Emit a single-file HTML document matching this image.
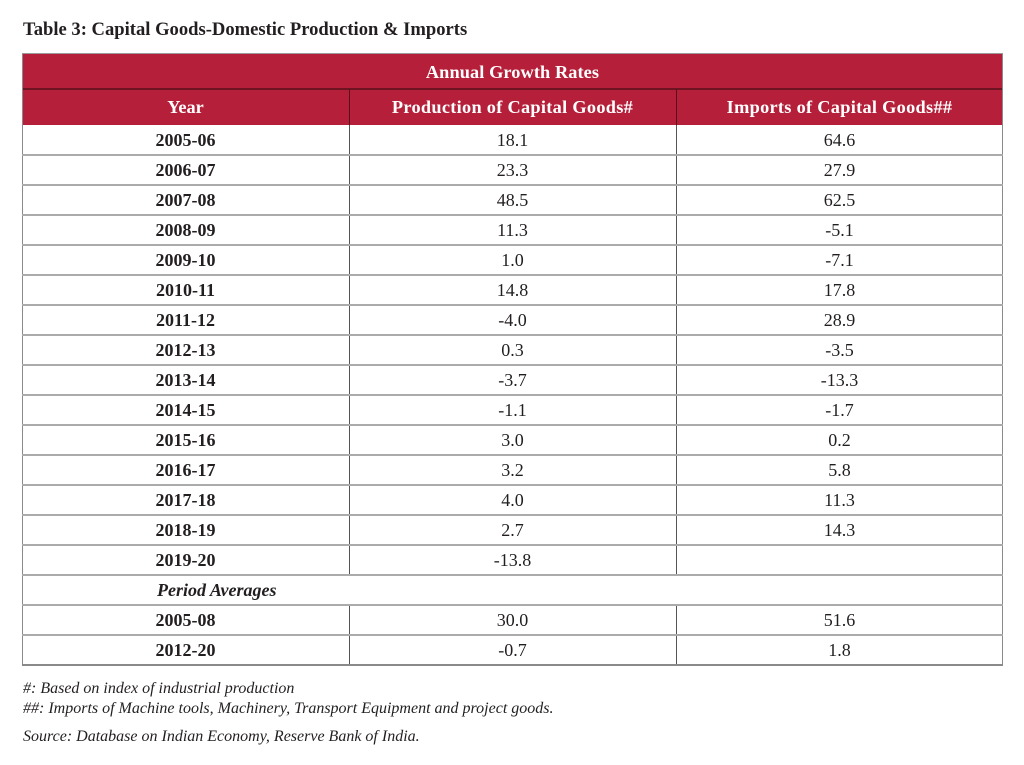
<!DOCTYPE html>
<html>
<head>
<meta charset="utf-8">
<style>
  html,body{margin:0;padding:0;background:#fff;}
  body{width:1024px;height:765px;position:relative;overflow:hidden;font-family:"Liberation Serif",serif;color:#231f20;}
  .abs{position:absolute;}
  .title{left:23px;top:20px;height:20px;line-height:20px;font-size:18.6px;font-weight:bold;white-space:nowrap;}
  .hdr{background:#b51f39;}
  .ht{color:#fff;font-weight:bold;font-size:18.3px;text-align:center;white-space:nowrap;}
  .cell{font-size:18px;text-align:center;height:30px;line-height:31px;white-space:nowrap;}
  .yr{font-weight:bold;left:22px;width:327px;}
  .c2{left:349px;width:327px;}
  .c3{left:676px;width:327px;}
  .hl{left:22px;width:981px;height:2px;background:#ababab;}
  .fn{left:23px;font-size:16px;font-style:italic;white-space:nowrap;height:20px;line-height:20px;}
</style>
</head>
<body>
<div class="abs title">Table 3: Capital Goods-Domestic Production &amp; Imports</div>

<!-- header block -->
<div class="abs hdr" style="left:22px;top:54px;width:981px;height:71px;"></div>
<div class="abs" style="left:22px;top:88px;width:981px;height:2px;background:#6e1322;"></div>
<div class="abs" style="left:349px;top:89px;width:1px;height:36px;background:#5a0f1c;"></div>
<div class="abs" style="left:676px;top:89px;width:1px;height:36px;background:#5a0f1c;"></div>
<div class="abs ht" style="left:22px;top:54px;width:981px;height:35px;line-height:36px;letter-spacing:0.1px;">Annual Growth Rates</div>
<div class="abs ht" style="left:22px;top:89px;width:327px;height:36px;line-height:37px;">Year</div>
<div class="abs ht" style="left:349px;top:89px;width:327px;height:36px;line-height:37px;letter-spacing:0.3px;">Production of Capital Goods#</div>
<div class="abs ht" style="left:676px;top:89px;width:327px;height:36px;line-height:37px;letter-spacing:0.3px;">Imports of Capital Goods##</div>

<!-- outer borders -->
<div class="abs" style="left:22px;top:54px;width:1px;height:612px;background:#8a8a8a;"></div>
<div class="abs" style="left:1002px;top:54px;width:1px;height:612px;background:#8a8a8a;"></div>
<div class="abs" style="left:22px;top:53px;width:981px;height:1px;background:#9a9a9a;"></div>

<!-- column dividers in body -->
<div class="abs" style="left:349px;top:125px;width:1px;height:450px;background:#555;"></div>
<div class="abs" style="left:676px;top:125px;width:1px;height:450px;background:#555;"></div>
<div class="abs" style="left:349px;top:605px;width:1px;height:60px;background:#555;"></div>
<div class="abs" style="left:676px;top:605px;width:1px;height:60px;background:#555;"></div>

<!-- horizontal row lines -->
<div class="abs hl" style="top:154px;"></div>
<div class="abs hl" style="top:184px;"></div>
<div class="abs hl" style="top:214px;"></div>
<div class="abs hl" style="top:244px;"></div>
<div class="abs hl" style="top:274px;"></div>
<div class="abs hl" style="top:304px;"></div>
<div class="abs hl" style="top:334px;"></div>
<div class="abs hl" style="top:364px;"></div>
<div class="abs hl" style="top:394px;"></div>
<div class="abs hl" style="top:424px;"></div>
<div class="abs hl" style="top:454px;"></div>
<div class="abs hl" style="top:484px;"></div>
<div class="abs hl" style="top:514px;"></div>
<div class="abs hl" style="top:544px;"></div>
<div class="abs hl" style="top:574px;"></div>
<div class="abs hl" style="top:604px;"></div>
<div class="abs hl" style="top:634px;"></div>
<div class="abs hl" style="top:664px;background:#8a8a8a;"></div>

<!-- rows -->
<div class="abs cell yr" style="top:125px;">2005-06</div><div class="abs cell c2" style="top:125px;">18.1</div><div class="abs cell c3" style="top:125px;">64.6</div>
<div class="abs cell yr" style="top:155px;">2006-07</div><div class="abs cell c2" style="top:155px;">23.3</div><div class="abs cell c3" style="top:155px;">27.9</div>
<div class="abs cell yr" style="top:185px;">2007-08</div><div class="abs cell c2" style="top:185px;">48.5</div><div class="abs cell c3" style="top:185px;">62.5</div>
<div class="abs cell yr" style="top:215px;">2008-09</div><div class="abs cell c2" style="top:215px;">11.3</div><div class="abs cell c3" style="top:215px;">-5.1</div>
<div class="abs cell yr" style="top:245px;">2009-10</div><div class="abs cell c2" style="top:245px;">1.0</div><div class="abs cell c3" style="top:245px;">-7.1</div>
<div class="abs cell yr" style="top:275px;">2010-11</div><div class="abs cell c2" style="top:275px;">14.8</div><div class="abs cell c3" style="top:275px;">17.8</div>
<div class="abs cell yr" style="top:305px;">2011-12</div><div class="abs cell c2" style="top:305px;">-4.0</div><div class="abs cell c3" style="top:305px;">28.9</div>
<div class="abs cell yr" style="top:335px;">2012-13</div><div class="abs cell c2" style="top:335px;">0.3</div><div class="abs cell c3" style="top:335px;">-3.5</div>
<div class="abs cell yr" style="top:365px;">2013-14</div><div class="abs cell c2" style="top:365px;">-3.7</div><div class="abs cell c3" style="top:365px;">-13.3</div>
<div class="abs cell yr" style="top:395px;">2014-15</div><div class="abs cell c2" style="top:395px;">-1.1</div><div class="abs cell c3" style="top:395px;">-1.7</div>
<div class="abs cell yr" style="top:425px;">2015-16</div><div class="abs cell c2" style="top:425px;">3.0</div><div class="abs cell c3" style="top:425px;">0.2</div>
<div class="abs cell yr" style="top:455px;">2016-17</div><div class="abs cell c2" style="top:455px;">3.2</div><div class="abs cell c3" style="top:455px;">5.8</div>
<div class="abs cell yr" style="top:485px;">2017-18</div><div class="abs cell c2" style="top:485px;">4.0</div><div class="abs cell c3" style="top:485px;">11.3</div>
<div class="abs cell yr" style="top:515px;">2018-19</div><div class="abs cell c2" style="top:515px;">2.7</div><div class="abs cell c3" style="top:515px;">14.3</div>
<div class="abs cell yr" style="top:545px;">2019-20</div><div class="abs cell c2" style="top:545px;">-13.8</div><div class="abs cell c3" style="top:545px;"></div>
<div class="abs cell" style="top:575px;left:157px;text-align:left;font-weight:bold;font-style:italic;">Period Averages</div>
<div class="abs cell yr" style="top:605px;">2005-08</div><div class="abs cell c2" style="top:605px;">30.0</div><div class="abs cell c3" style="top:605px;">51.6</div>
<div class="abs cell yr" style="top:635px;">2012-20</div><div class="abs cell c2" style="top:635px;">-0.7</div><div class="abs cell c3" style="top:635px;">1.8</div>

<!-- footnotes -->
<div class="abs fn" style="top:679px;">#: Based on index of industrial production</div>
<div class="abs fn" style="top:699px;">##: Imports of Machine tools, Machinery, Transport Equipment and project goods.</div>
<div class="abs fn" style="top:727px;">Source: Database on Indian Economy, Reserve Bank of India.</div>
</body>
</html>
